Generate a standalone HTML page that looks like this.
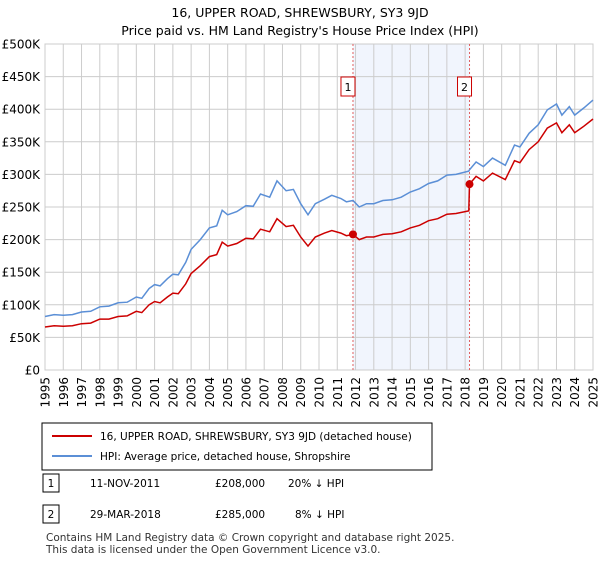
<!DOCTYPE html>
<html><head><meta charset="utf-8"><style>
body{margin:0;background:#fff;font-family:"Liberation Sans","DejaVu Sans",sans-serif;}
svg text{font-family:"DejaVu Sans","Liberation Sans",sans-serif;}
</style></head><body>
<svg id="c" width="600" height="560" xmlns="http://www.w3.org/2000/svg">
<text x="300" y="17" font-size="12.5" text-anchor="middle">16, UPPER ROAD, SHREWSBURY, SY3 9JD</text>
<text x="300" y="35" font-size="12.5" text-anchor="middle">Price paid vs. HM Land Registry's House Price Index (HPI)</text>
<g id="plot"></g>
<rect x="42" y="423" width="390" height="47" fill="#fff" stroke="#000"/>
<line x1="52" y1="436" x2="92" y2="436" stroke="#cc0000" stroke-width="2"/>
<text x="100" y="440" font-size="10.5">16, UPPER ROAD, SHREWSBURY, SY3 9JD (detached house)</text>
<line x1="52" y1="456" x2="92" y2="456" stroke="#5b8fd6" stroke-width="2"/>
<text x="100" y="460" font-size="10.5">HPI: Average price, detached house, Shropshire</text>
<g>
<rect x="43" y="474" width="16" height="18" fill="#fff" stroke="#000"/><text x="51" y="487" font-size="10.5" text-anchor="middle">1</text>
<text x="90" y="487" font-size="10.5">11-NOV-2011</text><text x="215" y="487" font-size="10.5">£208,000</text><text x="288" y="487" font-size="10.5">20% ↓ HPI</text></g>
<g>
<rect x="43" y="505" width="16" height="18" fill="#fff" stroke="#000"/><text x="51" y="518" font-size="10.5" text-anchor="middle">2</text>
<text x="90" y="518" font-size="10.5">29-MAR-2018</text><text x="215" y="518" font-size="10.5">£285,000</text><text x="295" y="518" font-size="10.5">8% ↓ HPI</text></g>
<text x="46" y="541" font-size="10.5" fill="#333">Contains HM Land Registry data © Crown copyright and database right 2025.</text>
<text x="46" y="553" font-size="10.5" fill="#333">This data is licensed under the Open Government Licence v3.0.</text>
</svg>
<script>
const years=[1995,1995.5,1996,1996.5,1997,1997.5,1998,1998.5,1999,1999.5,2000,2000.3,2000.7,2001,2001.3,2001.7,2002,2002.3,2002.7,2003,2003.5,2004,2004.4,2004.7,2005,2005.5,2006,2006.4,2006.8,2007.3,2007.7,2008.2,2008.6,2009,2009.4,2009.8,2010.3,2010.7,2011.2,2011.5,2011.86,2012.2,2012.6,2013,2013.5,2014,2014.5,2015,2015.5,2016,2016.5,2017,2017.5,2018.2,2018.24,2018.6,2019,2019.5,2020.2,2020.7,2021,2021.5,2022,2022.5,2023,2023.3,2023.7,2024,2024.5,2025];
const hpi=[82,85,84,85,89,90,97,98,103,104,112,110,125,131,129,140,147,146,165,185,200,218,221,245,238,243,252,251,270,265,290,275,277,255,238,255,262,268,263,258,260,250,255,255,260,261,265,273,278,286,290,299,300,305,307,319,312,325,314,345,342,363,376,399,408,391,404,391,402,414];
const price=[66,68,67,68,71,72,78,78,82,83,90,88,100,105,103,112,118,117,132,148,160,174,177,196,190,194,202,201,216,212,232,220,222,204,190,204,210,214,210,206,208,200,204,204,208,209,212,218,222,229,232,239,240,244,285,297,290,302,292,321,318,338,350,371,379,364,376,364,374,385];
const saleYears=[2011.86,2018.24];
const salePrices=[208,285];
const saleLabels=["1","2"];
const yTicks=[0,50,100,150,200,250,300,350,400,450,500];
const yTickLabels=["£0","£50K","£100K","£150K","£200K","£250K","£300K","£350K","£400K","£450K","£500K"];
const xTicks=[1995,1996,1997,1998,1999,2000,2001,2002,2003,2004,2005,2006,2007,2008,2009,2010,2011,2012,2013,2014,2015,2016,2017,2018,2019,2020,2021,2022,2023,2024,2025];

const X0=45,X1=593,Y0=370,Y1=44;
const xs=v=>X0+(v-1995)/30*(X1-X0);
const ys=v=>Y0-v/500*(Y0-Y1);
const NS="http://www.w3.org/2000/svg";
const g=document.getElementById('plot');
function mk(t,a){const e=document.createElementNS(NS,t);for(const k in a)e.setAttribute(k,a[k]);g.appendChild(e);return e;}
let e;
e=mk('rect',{x:xs(saleYears[0]),y:Y1,width:xs(saleYears[1])-xs(saleYears[0]),height:Y0-Y1,fill:'#eef3fc',opacity:0.8});


yTicks.forEach((v,i)=>{
 e=mk('line',{x1:X0,x2:X1,y1:ys(v),y2:ys(v),stroke:'#cccccc'});
 
 
 e=mk('text',{x:40,y:ys(v)+4.5,'font-size':12,'text-anchor':'end'});e.textContent=yTickLabels[i];
 
 
});
xTicks.forEach(v=>{
 e=mk('line',{x1:xs(v),x2:xs(v),y1:Y1,y2:Y0,stroke:'#cccccc'});
 
 
 e=mk('text',{x:0,y:0,'font-size':12,'text-anchor':'end',transform:`translate(${xs(v)+4.5},377) rotate(-90)`});e.textContent=v;
 
 
});
e=mk('rect',{x:X0,y:Y1,width:X1-X0,height:Y0-Y1,fill:'none',stroke:'#cccccc'});


saleYears.forEach((v,i)=>{
 e=mk('line',{x1:xs(v),x2:xs(v),y1:Y1,y2:Y0,stroke:'#e06060','stroke-dasharray':'2,2'});
 
 
 e=mk('rect',{x:xs(v)-12,y:77,width:14,height:19,fill:'#fff',stroke:'#cc0000'});
 
 
 e=mk('text',{x:xs(v)-5,y:91,'font-size':11,'text-anchor':'middle'});e.textContent=saleLabels[i];
 
 
});
const pts=a=>a.map((v,i)=>xs(years[i]).toFixed(1)+','+ys(v).toFixed(1)).join(' ');
e=mk('polyline',{points:pts(hpi),fill:'none',stroke:'#5b8fd6','stroke-width':1.5});


e=mk('polyline',{points:pts(price),fill:'none',stroke:'#cc0000','stroke-width':1.5});


saleYears.forEach((v,i)=>{
 e=mk('circle',{cx:xs(v),cy:ys(salePrices[i]),r:4,fill:'#cc0000'});
 
 
});
</script>
</body></html>
